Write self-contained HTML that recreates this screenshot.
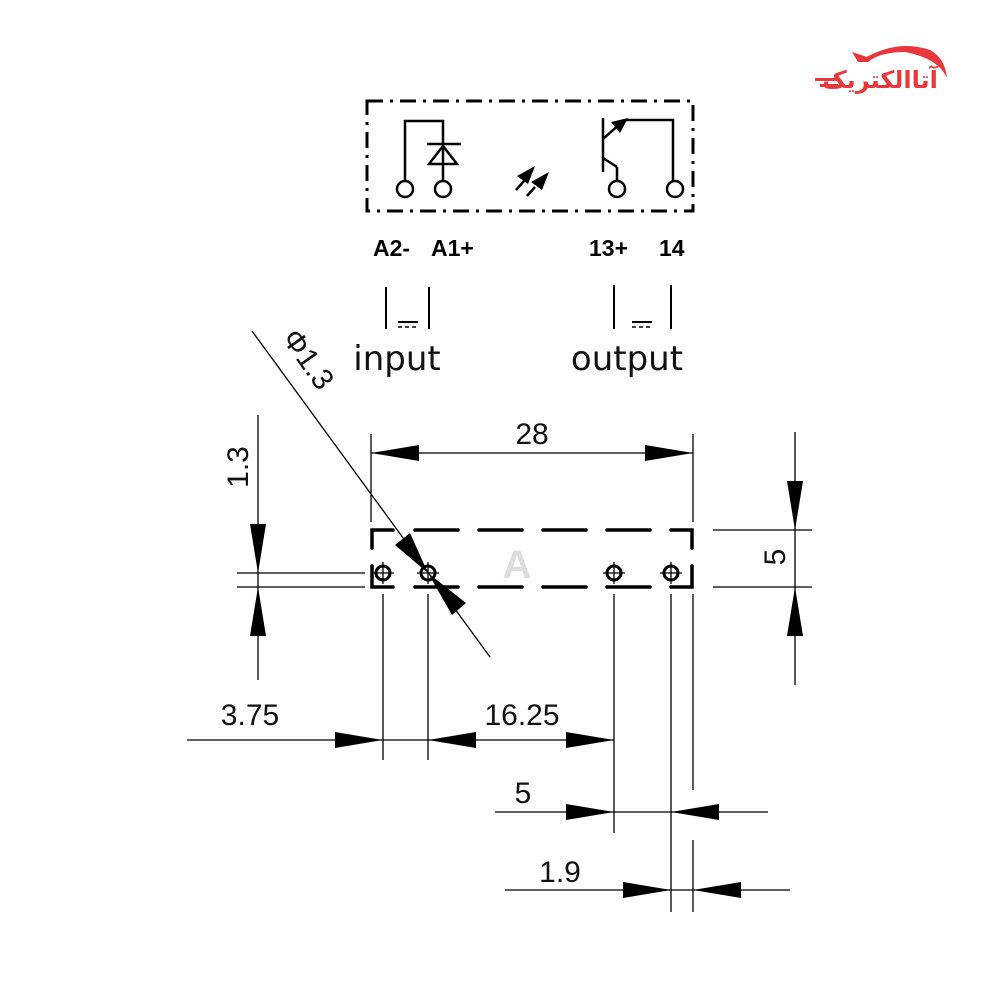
<!DOCTYPE html>
<html><head><meta charset="utf-8"><style>html,body{margin:0;padding:0;background:#fff}svg{display:block}</style></head>
<body>
<svg width="1000" height="1000" viewBox="0 0 1000 1000" xmlns="http://www.w3.org/2000/svg" font-family="Liberation Sans, Arial, sans-serif">
<!-- logo -->
<g fill="#e8383d">
<path d="M858 62 Q895 38 930 50 Q945 58 947 78 Q938 58 905 52 Q880 52 868 62 Z"/>
<path d="M858 62 L852 52 L870 58 Z"/>
<text x="880" y="88" font-size="24" font-weight="bold" text-anchor="middle" font-family="DejaVu Sans, sans-serif">آتاالکتریک</text>
<rect x="815" y="78" width="22" height="3"/><rect x="820" y="84" width="18" height="3"/>
</g>
<!-- top box -->
<rect x="367" y="101" width="326" height="110" fill="none" stroke="#000" stroke-width="3" stroke-dasharray="16,7,3,7"/>
<g stroke="#000" stroke-width="2.5" fill="none">
<circle cx="405" cy="189" r="8"/><circle cx="443" cy="189" r="8"/>
<circle cx="617" cy="189" r="8"/><circle cx="675" cy="189" r="8"/>
<polyline points="405,181 405,121 443,121 443,181"/>
<line x1="427" y1="144" x2="461" y2="144"/>
<polygon points="443,146 429,164 457,164"/>
<line x1="603" y1="118" x2="603" y2="172"/>
<line x1="603" y1="158" x2="617" y2="167"/><line x1="617" y1="167" x2="617" y2="181"/>
<line x1="603" y1="139" x2="622" y2="122"/>
<polyline points="626,120 673,120 673,181"/>
<line x1="516" y1="190" x2="524" y2="181"/><line x1="527" y1="196" x2="535" y2="187"/>
</g>
<polygon points="628,118 611,122 620,133" fill="#000"/>
<polygon points="535,166 517,176 528,184" fill="#000"/>
<polygon points="549,172 531,182 542,190" fill="#000"/>
<!-- labels -->
<g font-weight="bold" font-size="23">
<text x="373" y="256">A2-</text><text x="431" y="256">A1+</text>
<text x="589" y="256">13+</text><text x="659" y="256">14</text>
</g>
<g stroke="#000" stroke-width="2">
<line x1="386" y1="287" x2="386" y2="329"/><line x1="429" y1="287" x2="429" y2="329"/>
<line x1="614" y1="285" x2="614" y2="329"/><line x1="671" y1="285" x2="671" y2="329"/>
<line x1="398" y1="322" x2="418" y2="322"/><line x1="632" y1="322" x2="652" y2="322"/>
</g>
<g stroke="#000" stroke-width="1.5" stroke-dasharray="4,3">
<line x1="398" y1="327" x2="418" y2="327"/><line x1="632" y1="327" x2="652" y2="327"/>
</g>
<text x="397" y="370" font-size="34" text-anchor="middle" font-family="DejaVu Sans, sans-serif" fill="#111">input</text>
<text x="627" y="370" font-size="34" text-anchor="middle" font-family="DejaVu Sans, sans-serif" fill="#111">output</text>
<!-- watermark -->
<text x="517" y="578" font-size="40" font-weight="bold" fill="#ddd" text-anchor="middle">A</text>
<!-- part outline -->
<g stroke="#000" stroke-width="3.5" fill="none" stroke-linecap="round">
<polyline points="372,548 372,530 393,530"/>
<line x1="415" y1="530" x2="458" y2="530"/><line x1="479" y1="530" x2="522" y2="530"/>
<line x1="543" y1="530" x2="586" y2="530"/><line x1="607" y1="530" x2="650" y2="530"/>
<polyline points="671,530 692,530 692,548"/>
<polyline points="372,566 372,587 393,587"/>
<line x1="415" y1="587" x2="458" y2="587"/><line x1="479" y1="587" x2="522" y2="587"/>
<line x1="543" y1="587" x2="586" y2="587"/><line x1="607" y1="587" x2="650" y2="587"/>
<polyline points="671,587 692,587 692,566"/>
</g>
<g stroke="#000" stroke-width="3" fill="none">
<circle cx="383" cy="573" r="7"/><circle cx="428" cy="573" r="7"/>
<circle cx="614" cy="573" r="7"/><circle cx="671" cy="573" r="7"/>
</g>
<g stroke="#000" stroke-width="1.3">
<line x1="372" y1="573" x2="394" y2="573"/><line x1="383" y1="562" x2="383" y2="584"/>
<line x1="417" y1="573" x2="439" y2="573"/><line x1="428" y1="562" x2="428" y2="584"/>
<line x1="603" y1="573" x2="625" y2="573"/><line x1="614" y1="562" x2="614" y2="584"/>
<line x1="660" y1="573" x2="682" y2="573"/><line x1="671" y1="562" x2="671" y2="584"/>
</g>
<!-- dimension lines -->
<g stroke="#000" stroke-width="1.3" fill="none">
<line x1="371" y1="434" x2="371" y2="522"/><line x1="693" y1="434" x2="693" y2="522"/>
<line x1="371" y1="453" x2="693" y2="453"/>
<line x1="795" y1="432" x2="795" y2="685"/>
<line x1="713" y1="530" x2="812" y2="530"/><line x1="713" y1="587" x2="812" y2="587"/>
<line x1="258" y1="415" x2="258" y2="680"/>
<line x1="237" y1="573" x2="365" y2="573"/><line x1="237" y1="587" x2="365" y2="587"/>
<line x1="252" y1="331" x2="490" y2="657"/>
<line x1="187" y1="740" x2="614" y2="740"/>
<line x1="383" y1="594" x2="383" y2="760"/><line x1="428" y1="594" x2="428" y2="760"/>
<line x1="614" y1="594" x2="614" y2="833"/>
<line x1="671" y1="594" x2="671" y2="912"/>
<line x1="693" y1="594" x2="693" y2="790"/><line x1="693" y1="840" x2="693" y2="912"/>
<line x1="495" y1="812" x2="768" y2="812"/>
<line x1="505" y1="890" x2="790" y2="890"/>
</g>
<g fill="#000">
<polygon points="371,453 419,445 419,461"/><polygon points="693,453 645,445 645,461"/>
<polygon points="795,530 787,481 803,481"/><polygon points="795,587 787,636 803,636"/>
<polygon points="258,573 250,524 266,524"/><polygon points="258,587 250,636 266,636"/>
<polygon points="428,573 395,545 410,533"/><polygon points="428,573 466,603 452,615"/>
<polygon points="383,740 335,732 335,748"/><polygon points="428,740 476,732 476,748"/>
<polygon points="614,740 566,732 566,748"/>
<polygon points="614,812 566,804 566,820"/><polygon points="671,812 719,804 719,820"/>
<polygon points="671,890 623,882 623,898"/><polygon points="693,890 741,882 741,898"/>
</g>
<g font-size="30" fill="#111">
<text x="532" y="444" text-anchor="middle">28</text>
<text x="250" y="725" text-anchor="middle">3.75</text>
<text x="522" y="725" text-anchor="middle">16.25</text>
<text x="523" y="803" text-anchor="middle">5</text>
<text x="560" y="882" text-anchor="middle">1.9</text>
<text transform="translate(785,557) rotate(-90)" text-anchor="middle">5</text>
<text transform="translate(248,467) rotate(-90)" text-anchor="middle">1.3</text>
<text transform="translate(300,365) rotate(55)" text-anchor="middle" font-size="30">Φ1.3</text>
</g>
</svg>
</body></html>
